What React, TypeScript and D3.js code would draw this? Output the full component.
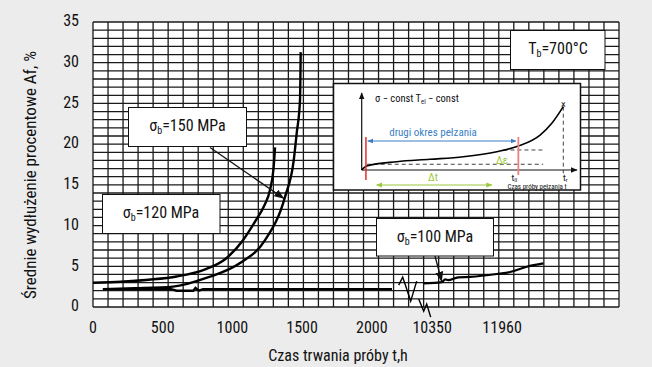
import React from "react";
import * as d3 from "d3";

const W = 652, H = 367;
const PL = 93, PT = 22, PW = 526, PH = 285;

const yTicks = [0, 5, 10, 15, 20, 25, 30, 35];
const xTicks = [0, 500, 1000, 1500, 2000, 10350, 11960];
const xTickLabels = ["0", "500", "1000", "1500", "2000", "10350", "11960"];

// broken time axis: [0..2150] | break | [10140..14650]
const xDomain = [0, 2150, 10140, 14650];

const curveAHours = [0, 200, 400, 600, 800, 950, 1076, 1170, 1230, 1270, 1295, 1306];
const curveAVals = [2.98, 3.1, 3.35, 3.75, 4.6, 5.9, 8.2, 10.7, 12.5, 14.4, 17, 19.6];

const curveBHours = [70, 300, 574, 818, 1055, 1234, 1377, 1440, 1461, 1485, 1490];
const curveBVals = [2.2, 2.3, 2.5, 3.6, 5.4, 8.2, 13.5, 18, 21.3, 25.4, 31.3];

const c100aHours = [72, 560, 600, 720, 735, 760, 790, 1500, 2145];
const c100aVals = [2.2, 2.2, 2.0, 2.0, 2.35, 2.0, 2.2, 2.2, 2.2];
const c100bHours = [10150, 10573, 10650, 10718, 10948, 11224, 11838, 12144, 12528, 12910];
const c100bVals = [2.9, 3.05, 3.4, 3.3, 3.65, 3.7, 4.05, 4.3, 4.95, 5.35];

// inset schematic creep curve (normalised time / strain)
const insetT = [0, 0.025, 0.174, 0.339, 0.504, 0.67, 0.777, 0.885, 0.943, 1.0];
const insetE = [0, 0.062, 0.128, 0.165, 0.205, 0.282, 0.369, 0.538, 0.718, 0.974];

const FONT = "'Roboto Condensed', 'Liberation Sans Narrow', 'DejaVu Sans Condensed', Roboto, sans-serif";

export default function App() {
  const x = d3.scaleLinear().domain(xDomain).range([0, 299.7, 330, PW]);
  const y = d3.scaleLinear().domain([0, 35]).range([PH, 0]);
  const gx = d3.scaleLinear().domain([0, 35]).range([0, PW]);

  const line = (hs: number[], vs: number[], curve = d3.curveMonotoneX) =>
    d3.line<number>().x((_, i) => x(hs[i])).y((_, i) => y(vs[i])).curve(curve)(hs) || "";

  // inset scales
  const ix = d3.scaleLinear().domain([0, 1]).range([361.7, 563.3]);
  const iy = d3.scaleLinear().domain([0, 1]).range([170, 105]);
  const insetPath = d3.line<number>().x((_, i) => ix(insetT[i])).y((_, i) => iy(insetE[i])).curve(d3.curveMonotoneX)(insetT) || "";

  const gridRows = d3.range(36);
  const gridCols = d3.range(36);

  // break position
  const bx = PL + x(2150);
  const by = PT + y(2.2);

  const sigma = (val: string, cx: number, cy: number) => (
    <text x={cx} y={cy} textAnchor="middle" fontSize={16} fontFamily={FONT} fill="#111" dominantBaseline="middle">
      σ<tspan fontSize={10} dy={4}>b</tspan><tspan dy={-4}>={val} MPa</tspan>
    </text>
  );

  return (
    <div style={{ position: "fixed", left: 0, top: 0 }}>
      <svg width={W} height={H} style={{ display: "block" }}>
        <defs>
          <marker id="ah" viewBox="0 0 10 10" refX="10" refY="5" markerWidth="10" markerHeight="10" markerUnits="userSpaceOnUse" orient="auto">
            <path d="M0,1 L10,5 L0,9 z" fill="#111" />
          </marker>
          <marker id="ahs" viewBox="0 0 10 10" refX="9" refY="5" markerWidth="7" markerHeight="7" markerUnits="userSpaceOnUse" orient="auto">
            <path d="M0,1 L10,5 L0,9 z" fill="#111" />
          </marker>
          <marker id="blue" viewBox="0 0 10 10" refX="9" refY="5" markerWidth="6" markerHeight="6" markerUnits="userSpaceOnUse" orient="auto-start-reverse">
            <path d="M0,1 L10,5 L0,9 z" fill="#3a7fc4" />
          </marker>
          <marker id="green" viewBox="0 0 10 10" refX="9" refY="5" markerWidth="6" markerHeight="6" markerUnits="userSpaceOnUse" orient="auto-start-reverse">
            <path d="M0,1 L10,5 L0,9 z" fill="#9bc83c" />
          </marker>
        </defs>
        <rect x={0} y={0} width={W} height={H} fill="#ececec" />
        <g transform={`translate(${PL},${PT})`}>
          <rect x={0} y={0} width={PW} height={PH} fill="#fff" />
          {gridRows.map((r) => (
            <line key={"r" + r} x1={0} x2={PW} y1={y(r)} y2={y(r)} stroke="#1a1a1a" strokeWidth={1.3} />
          ))}
          {gridCols.map((c) => (
            <line key={"c" + c} x1={gx(c)} x2={gx(c)} y1={0} y2={PH} stroke="#1a1a1a" strokeWidth={1.3} />
          ))}
          <path d={line(curveAHours, curveAVals)} fill="none" stroke="#000" strokeWidth={2.4} />
          <path d={line(curveBHours, curveBVals)} fill="none" stroke="#000" strokeWidth={2.4} />
          <path d={line(c100aHours, c100aVals, d3.curveLinear)} fill="none" stroke="#000" strokeWidth={2.4} />
          <path d={line(c100bHours, c100bVals, d3.curveMonotoneX)} fill="none" stroke="#000" strokeWidth={2.2} />
        </g>

        {/* break symbols */}
        <path d={`M${bx + 6},${by - 4} L${bx + 10},${by - 12} L${bx + 18},${by + 12} L${bx + 24},${by - 8}`} fill="none" stroke="#000" strokeWidth={1.4} />
        <path d={`M${bx + 26},${by + 10} L${bx + 31},${by + 22} L${bx + 34},${by + 15} L${bx + 38},${by + 28}`} fill="none" stroke="#000" strokeWidth={1.4} />

        {/* y tick labels */}
        {yTicks.map((t) => (
          <text key={t} x={79} y={PT + y(t)} textAnchor="end" dominantBaseline="middle" fontSize={16} fontFamily={FONT} fill="#111">{t}</text>
        ))}
        {xTicks.map((t, i) => (
          <text key={t} x={PL + x(t)} y={329} textAnchor="middle" dominantBaseline="middle" fontSize={16} fontFamily={FONT} fill="#111">{xTickLabels[i]}</text>
        ))}
        <text x={338} y={357} textAnchor="middle" dominantBaseline="middle" fontSize={16} fontFamily={FONT} fill="#111">Czas trwania próby t,h</text>
        <text transform={`translate(32,175) rotate(-90)`} textAnchor="middle" dominantBaseline="middle" fontSize={17} fontFamily={FONT} fill="#111">Średnie wydłużenie procentowe Af, %</text>

        {/* label boxes */}
        <rect x={128.5} y={107.5} width={118} height={39} fill="#fff" stroke="#111" strokeWidth={1} />
        {sigma("150", 187.5, 127)}
        <line x1={210} y1={147.5} x2={PL + x(1372)} y2={PT + y(13.3)} stroke="#111" strokeWidth={1.3} markerEnd="url(#ah)" />

        <rect x={102.5} y={194.5} width={117.5} height={39} fill="#fff" stroke="#111" strokeWidth={1} />
        {sigma("120", 161, 214)}

        <rect x={376.5} y={218.5} width={117} height={37.5} fill="#fff" stroke="#111" strokeWidth={1} />
        {sigma("100", 435, 238)}
        <line x1={435} y1={256} x2={PL + x(10573)} y2={PT + y(3.1)} stroke="#111" strokeWidth={1.3} markerEnd="url(#ah)" />

        <rect x={510.5} y={30.5} width={94.5} height={39} fill="#fff" stroke="#111" strokeWidth={1} />
        <text x={558} y={50} textAnchor="middle" dominantBaseline="middle" fontSize={16} fontFamily={FONT} fill="#111">
          T<tspan fontSize={10} dy={4}>b</tspan><tspan dy={-4}>=700°C</tspan>
        </text>

        {/* inset */}
        <rect x={333.5} y={83.5} width={247} height={106.5} fill="#fff" stroke="#111" strokeWidth={1.5} />
        <line x1={ix(0)} y1={iy(0)} x2={ix(0)} y2={93} stroke="#111" strokeWidth={1.2} markerEnd="url(#ahs)" />
        <line x1={ix(0)} y1={iy(0)} x2={577} y2={iy(0)} stroke="#111" strokeWidth={1.2} markerEnd="url(#ahs)" />
        <text x={375} y={99} fontSize={10.5} fontFamily={FONT} fill="#111" dominantBaseline="middle">
          σ − const T<tspan fontSize={6.5} dy={2.5}>el</tspan><tspan dy={-2.5}> − const</tspan>
        </text>
        <line x1={ix(0.025)} y1={iy(0.088)} x2={ix(0.9)} y2={iy(0.088)} stroke="#444" strokeWidth={1} strokeDasharray="4,3" />
        <line x1={ix(0.703)} y1={iy(0.308)} x2={ix(0.9)} y2={iy(0.308)} stroke="#444" strokeWidth={1} strokeDasharray="4,3" />
        <line x1={ix(1)} y1={iy(0.974)} x2={ix(1)} y2={iy(-0.05)} stroke="#444" strokeWidth={1} strokeDasharray="4,3" />
        <path d={insetPath} fill="none" stroke="#000" strokeWidth={1.6} />
        <text x={ix(1)} y={iy(0.99)} textAnchor="middle" dominantBaseline="middle" fontSize={10} fontFamily={FONT} fill="#111">×</text>
        <line x1={ix(0.021)} y1={137} x2={ix(0.021)} y2={180} stroke="#e0302a" strokeWidth={1.5} />
        <line x1={ix(0.777)} y1={137} x2={ix(0.777)} y2={175} stroke="#f08080" strokeWidth={1.8} />
        <line x1={ix(0.03)} y1={141} x2={ix(0.765)} y2={141} stroke="#3a7fc4" strokeWidth={1.2} markerStart="url(#blue)" markerEnd="url(#blue)" />
        <text x={433} y={133} textAnchor="middle" dominantBaseline="middle" fontSize={11} fontFamily={FONT} fill="#3a7fc4">drugi okres pełzania</text>
        <text x={502} y={161} textAnchor="middle" dominantBaseline="middle" fontSize={11} fontFamily={FONT} fill="#9bc83c">Δε</text>
        <line x1={ix(0.074)} y1={185} x2={ix(0.645)} y2={185} stroke="#9bc83c" strokeWidth={1.2} markerStart="url(#green)" markerEnd="url(#green)" />
        <text x={433} y={178} textAnchor="middle" dominantBaseline="middle" fontSize={11} fontFamily={FONT} fill="#9bc83c">Δt</text>
        <text x={ix(0.777) - 4} y={178} textAnchor="middle" dominantBaseline="middle" fontSize={9.5} fontFamily={FONT} fill="#111">t<tspan fontSize={6} dy={2}>II</tspan></text>
        <text x={ix(1) + 2} y={178} textAnchor="middle" dominantBaseline="middle" fontSize={9.5} fontFamily={FONT} fill="#111">t<tspan fontSize={6} dy={2}>r</tspan></text>
        <text x={537} y={187} textAnchor="middle" dominantBaseline="middle" fontSize={7} fontFamily={FONT} fill="#111">Czas próby pełzania t</text>
      </svg>
    </div>
  );
}
